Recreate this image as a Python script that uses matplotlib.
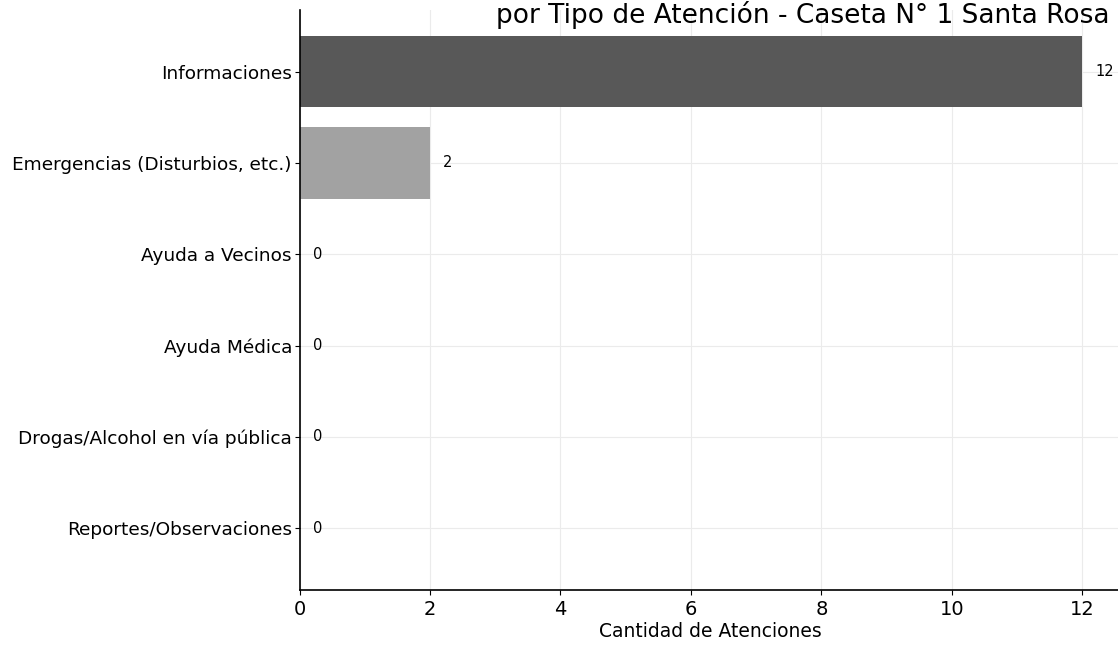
import matplotlib.pyplot as plt

categorias = ["Informaciones", "Emergencias (Disturbios, etc.)", "Ayuda a Vecinos",
              "Ayuda Médica", "Drogas/Alcohol en vía pública", "Reportes/Observaciones"]
cantidades = [12, 2, 0, 0, 0, 0]
colores = ["#585858", "#a2a2a2", "#cccccc", "#cccccc", "#cccccc", "#cccccc"]

fig = plt.figure(figsize=(11.18, 6.45), dpi=100)
ax = fig.add_axes([0.268, 0.085, 0.735, 0.9])

ax.barh(categorias, cantidades, color=colores, height=0.78, zorder=2)
ax.invert_yaxis()

for i, v in enumerate(cantidades):
    ax.text(v + 0.2, i, str(v), va="center", ha="left", fontsize=10.5)

ax.grid(True, color="#ebebeb", linewidth=0.8, zorder=0)
ax.spines["top"].set_visible(False)
ax.spines["right"].set_visible(False)
ax.spines["left"].set_linewidth(1.2)
ax.spines["bottom"].set_linewidth(1.2)
ax.tick_params(axis="y", labelsize=13.3, pad=2)
ax.tick_params(axis="x", labelsize=14)
ax.set_xlabel("Cantidad de Atenciones", fontsize=13.5, labelpad=2)

fig.text(0.992, 0.998, "por Tipo de Atención - Caseta N° 1 Santa Rosa",
         ha="right", va="top", fontsize=19)

fig.savefig("out.png", dpi=100)
